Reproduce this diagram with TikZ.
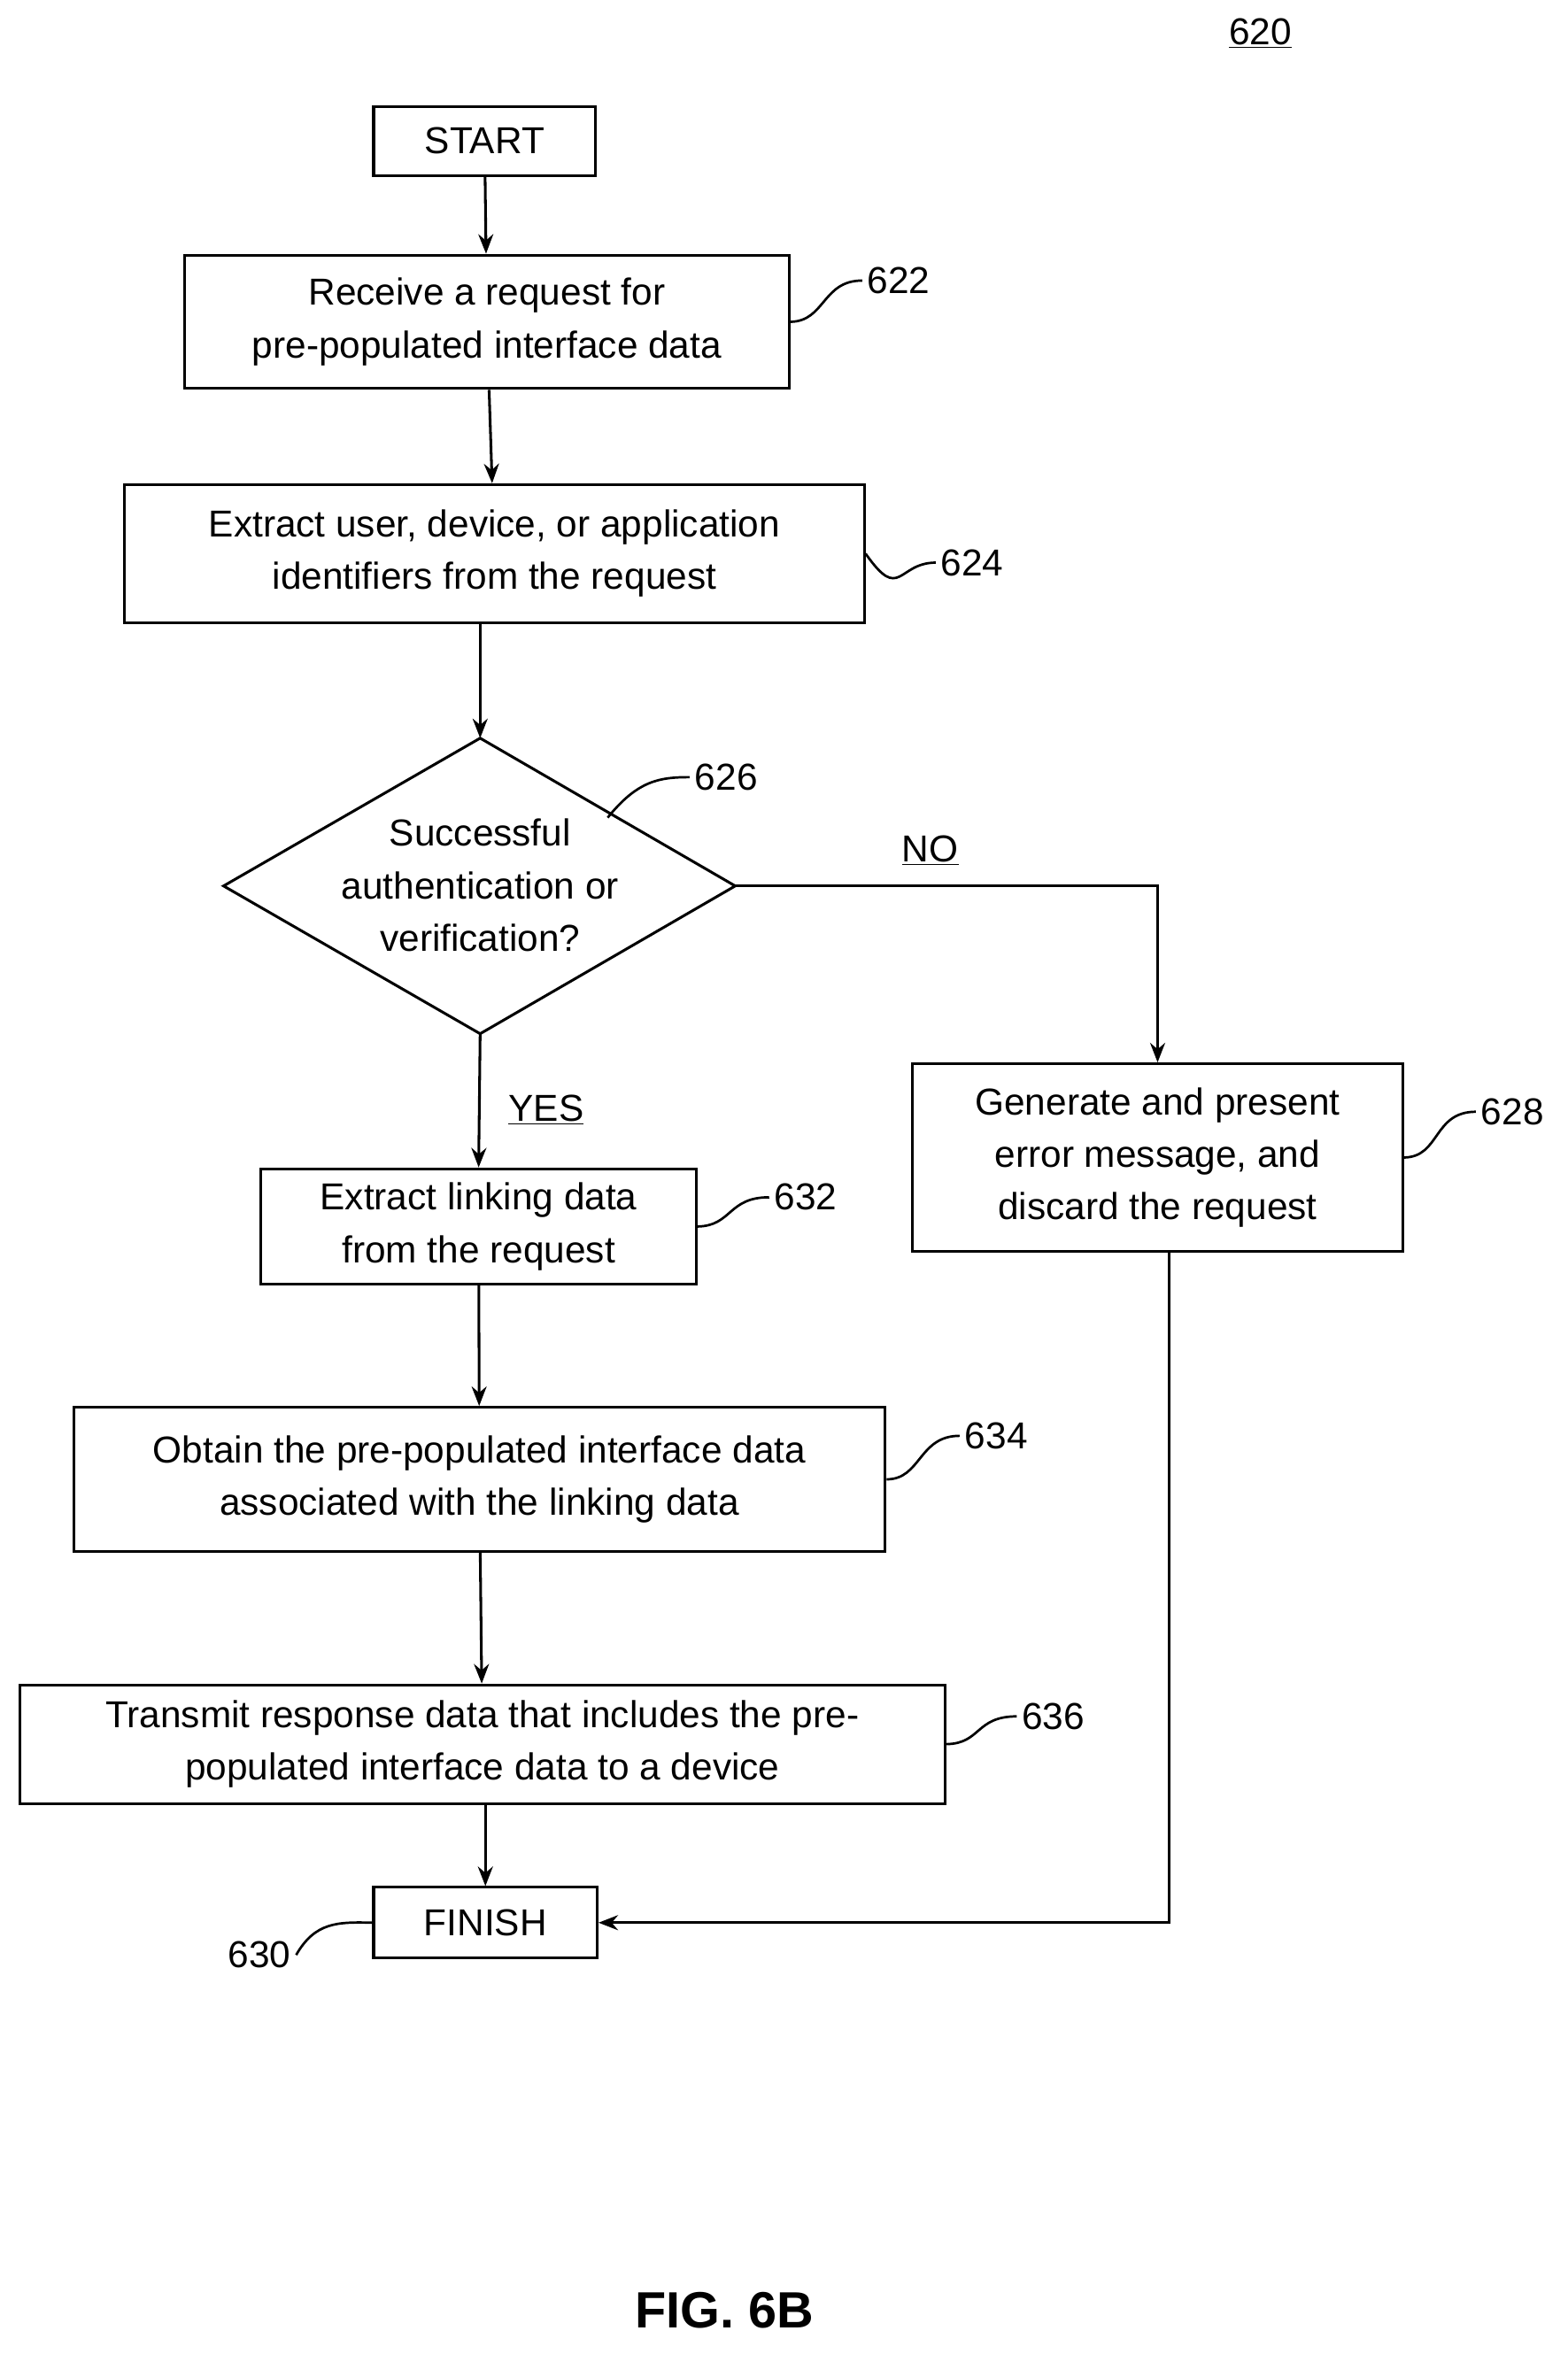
\documentclass[tikz,border=0pt]{standalone}
\usepackage{fontspec}
\setmainfont{Liberation Sans}
\usetikzlibrary{arrows.meta,shapes.geometric}
\begin{document}
\begin{tikzpicture}[x=1pt,y=-1pt,
  box/.style={draw,line width=1.8pt,align=center,font=\fontsize{25}{35}\selectfont,inner sep=0pt},
  lab/.style={font=\fontsize{25}{30}\selectfont},
  ar/.style={line width=1.8pt,-{Stealth[length=13pt,width=10pt]}},
  ln/.style={line width=1.6pt}]
\useasboundingbox (0,0) rectangle (1045,1569);
\node[lab] (t620) at (840,22) {\underline{620}};
\node[box,minimum width=148pt,minimum height=46pt] (start) at (323,94) {START};
\node[box,minimum width=403pt,minimum height=89pt] (b622) at (324.5,214.5) {Receive a request for\\pre-populated interface data};
\node[box,minimum width=493pt,minimum height=92pt] (b624) at (329.5,369) {Extract user, device, or application\\identifiers from the request};
\coordinate (dN) at (320,492);
\coordinate (dS) at (320,689);
\coordinate (dW) at (149,590.5);
\coordinate (dE) at (490,590.5);
\draw[line width=1.8pt,line join=miter] (dN) -- (dE) -- (dS) -- (dW) -- cycle;
\node[align=center,font=\fontsize{25}{35}\selectfont] (d626) at (320,590) {Successful\\authentication or\\verification?};
\node[box,minimum width=327pt,minimum height=125pt] (b628) at (771.5,771.5) {Generate and present\\error message, and\\discard the request};
\node[box,minimum width=290pt,minimum height=77pt] (b632) at (319,817.5) {Extract linking data\\from the request};
\node[box,minimum width=541pt,minimum height=96pt] (b634) at (319.5,986) {Obtain the pre-populated interface data\\associated with the linking data};
\node[box,minimum width=617pt,minimum height=79pt] (b636) at (321.5,1162.5) {Transmit response data that includes the pre-\\populated interface data to a device};
\node[box,minimum width=149pt,minimum height=47pt] (fin) at (323.5,1281.5) {FINISH};
\node[lab] (l622) at (599,187) {622};
\node[lab] (l624) at (648,375) {624};
\node[lab] (l626) at (484,518) {626};
\node[lab] (l628) at (1008,741) {628};
\node[lab] (l632) at (537,798) {632};
\node[lab] (l634) at (664,957) {634};
\node[lab] (l636) at (702,1144) {636};
\node[lab] (l630) at (173,1303) {630};
\node[lab] (no) at (620,567) {\underline{NO}};
\node[lab] (yes) at (364,740) {\underline{YES}};
\node[font=\bfseries\fontsize{34}{40}\selectfont] (fig) at (483,1540) {FIG. 6B};
\draw[ar] (start) -- (b622);
\draw[ar] (b622) -- (b624);
\draw[ar] (b624.south -| dN) -- (dN);
\draw[ar] (dS) -- (b632.north);
\draw[ar] (b632) -- (b634);
\draw[ar] (b634) -- (b636);
\draw[ar] (b636.south -| fin.north) -- (fin.north);
\draw[ar] (dE) -| (b628.north);
\coordinate (c628) at (779,834);
\draw[ar] (c628) |- (fin.east);
\draw[ln] (b622.east) .. controls (550,214) and (548,187) .. (l622.west);
\draw[ln] (b624.east) .. controls (600,402) and (598,375) .. (l624.west);
\draw[ln] (405,545) .. controls (425,520) and (440,518) .. (l626.west);
\draw[ln] (b628.east) .. controls (960,771) and (955,741) .. (l628.west);
\draw[ln] (b632.east) .. controls (488,817) and (485,798) .. (l632.west);
\draw[ln] (b634.east) .. controls (614,986) and (612,957) .. (l634.west);
\draw[ln] (b636.east) .. controls (654,1162) and (650,1144) .. (l636.west);
\draw[ln] (l630.east) .. controls (210,1281) and (225,1281) .. (fin.west);
\end{tikzpicture}
\end{document}
